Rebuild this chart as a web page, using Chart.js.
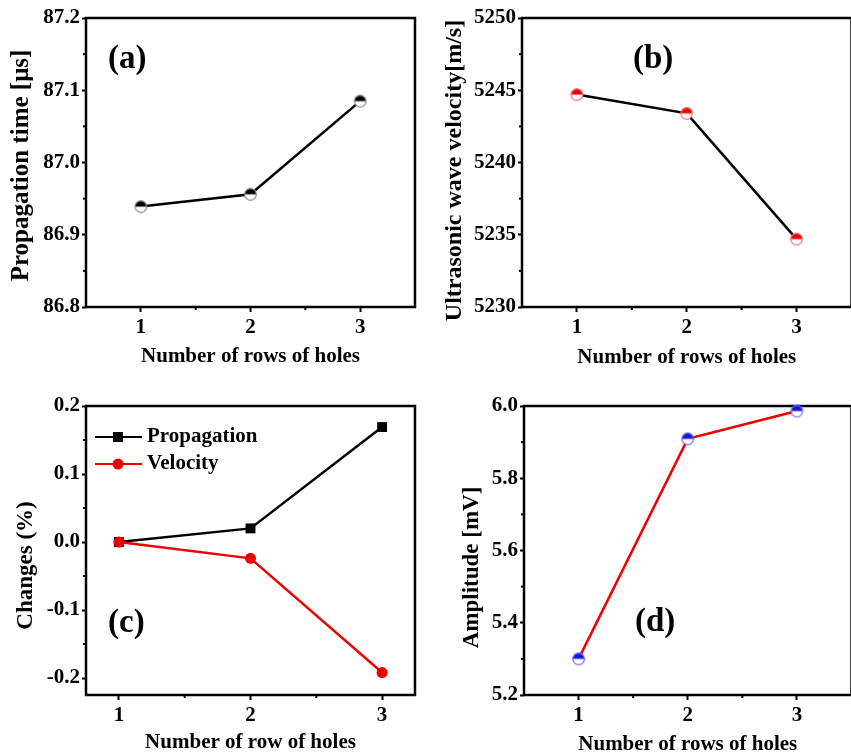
<!DOCTYPE html>
<html>
<head>
<meta charset="utf-8">
<script src="https://cdn.jsdelivr.net/npm/chart.js@4.4.1/dist/chart.umd.min.js"></script>
<style>
  html, body { margin: 0; padding: 0; background: #fff; overflow: hidden; width: 851px; height: 756px; }
  canvas { position: absolute; }
</style>
</head>
<body>
<canvas id="chartA" width="430" height="380" style="left:0;top:0"></canvas>
<canvas id="chartB" width="430" height="380" style="left:430px;top:0"></canvas>
<canvas id="chartC" width="430" height="376" style="left:0;top:380px"></canvas>
<canvas id="chartD" width="430" height="376" style="left:430px;top:380px"></canvas>
<script>
// data
const rows = [1, 2, 3];
const propagationTime = [86.939, 86.956, 87.085];   // µs
const waveVelocity = [5244.7, 5243.4, 5234.7];      // m/s
const changePropagation = [0, 0.020, 0.169];        // %
const changeVelocity = [0, -0.024, -0.192];         // %
const amplitude = [5.300, 5.909, 5.986];            // mV

const xTicks = [1, 2, 3];
const yTicksA = [86.8, 86.9, 87.0, 87.1, 87.2];
const yTicksB = [5230, 5235, 5240, 5245, 5250];
const yTicksC = [-0.2, -0.1, 0.0, 0.1, 0.2];
const yTicksD = [5.2, 5.4, 5.6, 5.8, 6.0];

const FONT = "'Liberation Serif', 'Times New Roman', serif";
const RED = "#ee0000";
const BLUE = "#1414e0";

function pts(xs, ys) {
  return xs.map((x, i) => ({ x: x, y: ys[i] }));
}

// half filled circle like the Origin symbol
function halfMarker(fill, edge) {
  let c = document.createElement("canvas");
  c.width = 15; c.height = 15;
  let g = c.getContext("2d");
  g.beginPath(); g.arc(7.5, 7.5, 5.8, 0, 2 * Math.PI); g.fillStyle = "#fff"; g.fill();
  g.beginPath(); g.arc(7.5, 7.5, 5.8, Math.PI, 2 * Math.PI); g.closePath(); g.fillStyle = fill; g.fill();
  g.beginPath(); g.arc(7.5, 7.5, 5.8, 0, 2 * Math.PI); g.lineWidth = 1.2; g.strokeStyle = edge; g.stroke();
  return c;
}

function midpoints(arr) {
  let out = [];
  for (let i = 0; i < arr.length - 1; i++) out.push((arr[i] + arr[i + 1]) / 2);
  return out;
}

// box frame, minor ticks, y title, panel letter, legend
const framePlugin = {
  id: "frame",
  beforeDatasetsDraw(chart, args, opts) {
    let ctx = chart.ctx;
    let a = chart.chartArea;
    let xs = chart.scales.x, ys = chart.scales.y;
    ctx.save();
    ctx.strokeStyle = "#000";
    ctx.lineWidth = 2;
    midpoints(opts.xMajor).forEach(v => {
      let px = xs.getPixelForValue(v);
      ctx.beginPath(); ctx.moveTo(px, a.bottom); ctx.lineTo(px, a.bottom + 3); ctx.stroke();
    });
    midpoints(opts.yMajor).forEach(v => {
      let py = ys.getPixelForValue(v);
      ctx.beginPath(); ctx.moveTo(a.left, py); ctx.lineTo(a.left - 3, py); ctx.stroke();
    });
    ctx.lineWidth = 2.5;
    ctx.strokeRect(a.left, a.top, a.right - a.left, a.bottom - a.top);

    // y axis title
    ctx.translate(opts.yTitleX, (a.top + a.bottom) / 2 + opts.yTitleShift);
    ctx.rotate(-Math.PI / 2);
    ctx.fillStyle = "#000";
    ctx.font = "bold " + opts.yTitleSize + "px " + FONT;
    ctx.textAlign = "center";
    ctx.textBaseline = "middle";
    ctx.fillText(opts.yTitle, 0, 0);
    ctx.restore();
  },
  afterDatasetsDraw(chart, args, opts) {
    let ctx = chart.ctx;
    let a = chart.chartArea;
    ctx.save();
    ctx.fillStyle = "#000";
    ctx.font = "bold 33px " + FONT;
    ctx.textAlign = "left";
    ctx.textBaseline = "middle";
    ctx.fillText(opts.label, a.left + opts.labelDx, a.top + opts.labelDy);
    if (opts.legend) {
      ctx.font = "bold 21px " + FONT;
      chart.data.datasets.forEach((ds, i) => {
        let y = a.top + 31 + i * 27;
        let x0 = a.left + 9;
        ctx.strokeStyle = ds.borderColor;
        ctx.lineWidth = 2;
        ctx.beginPath(); ctx.moveTo(x0, y); ctx.lineTo(x0 + 47, y); ctx.stroke();
        ctx.fillStyle = ds.borderColor;
        if (ds.pointStyle === "rect") {
          ctx.fillRect(x0 + 18, y - 5, 10, 10);
        } else {
          ctx.beginPath(); ctx.arc(x0 + 23, y, 5.5, 0, 2 * Math.PI); ctx.fill();
        }
        ctx.fillStyle = "#000";
        ctx.fillText(ds.label, x0 + 52, y);
      });
    }
    ctx.restore();
  }
};

function makePanel(id, cfg) {
  let ctx = document.getElementById(id);
  return new Chart(ctx, {
    type: "line",
    data: { datasets: cfg.datasets },
    plugins: [framePlugin],
    options: {
      responsive: false,
      animation: false,
      layout: { padding: { top: cfg.padTop, right: cfg.padRight, left: 0, bottom: 0 } },
      plugins: {
        legend: { display: false },
        tooltip: { enabled: false },
        frame: {
          xMajor: xTicks, yMajor: cfg.yTicks,
          yTitle: cfg.yTitle, yTitleSize: cfg.yTitleSize, yTitleX: cfg.yTitleX, yTitleShift: cfg.yTitleShift,
          label: cfg.label, labelDx: cfg.labelDx, labelDy: cfg.labelDy,
          legend: cfg.legend || false
        }
      },
      scales: {
        x: {
          type: "linear",
          min: cfg.xMin, max: cfg.xMax,
          afterBuildTicks: s => { s.ticks = xTicks.map(v => ({ value: v })); },
          afterFit: s => { s.height = cfg.xHeight; },
          border: { display: false },
          grid: { drawOnChartArea: false, drawTicks: true, tickLength: 5, tickWidth: 2, tickColor: "#000" },
          ticks: { color: "#000", padding: 3, font: { family: FONT, size: 21, weight: "bold" }, callback: v => String(v) },
          title: {
            display: true, text: cfg.xTitle, color: "#000",
            font: { family: FONT, size: 21, weight: "bold", lineHeight: 1 },
            padding: { top: 0, bottom: cfg.xTitlePad }
          }
        },
        y: {
          min: cfg.yTicks[0] - (cfg.yExtra || 0), max: cfg.yTicks[cfg.yTicks.length - 1],
          afterBuildTicks: s => { s.ticks = cfg.yTicks.map(v => ({ value: v })); },
          afterFit: s => { s.width = cfg.yWidth; },
          border: { display: false },
          grid: { drawOnChartArea: false, drawTicks: true, tickLength: 4, tickWidth: 2, tickColor: "#000" },
          ticks: { color: "#000", padding: 2, font: { family: FONT, size: 21, weight: "bold" }, callback: cfg.yFmt }
        }
      }
    }
  });
}

function halfDataset(values, line, fill, edge) {
  return {
    data: pts(rows, values),
    borderColor: line, borderWidth: 2.5, tension: 0, clip: false,
    pointStyle: halfMarker(fill, edge), pointRadius: 6
  };
}

makePanel("chartA", {
  datasets: [halfDataset(propagationTime, "#000", "#000", "#8a8a8a")],
  yTicks: yTicksA, yFmt: v => v.toFixed(1),
  xMin: 0.5, xMax: 3.5,
  padTop: 18, padRight: 15, yWidth: 86, xHeight: 73,
  xTitle: "Number of rows of holes", xTitlePad: 13,
  yTitle: "Propagation time [\u03bcs]", yTitleSize: 25, yTitleX: 22, yTitleShift: 3,
  label: "(a)", labelDx: 22, labelDy: 41
});

makePanel("chartB", {
  datasets: [halfDataset(waveVelocity, "#000", RED, "#f07070")],
  yTicks: yTicksB, yFmt: v => v.toFixed(0),
  xMin: 0.5, xMax: 3.5,
  padTop: 18, padRight: 7, yWidth: 92, xHeight: 73,
  xTitle: "Number of rows of holes", xTitlePad: 12,
  yTitle: "Ultrasonic wave velocity[m/s]", yTitleSize: 24, yTitleX: 25, yTitleShift: 8,
  label: "(b)", labelDx: 111, labelDy: 41
});

makePanel("chartC", {
  datasets: [
    {
      label: "Propagation", data: pts(rows, changePropagation), order: 1,
      borderColor: "#000", backgroundColor: "#000", borderWidth: 2.5, tension: 0, clip: false,
      pointStyle: "rect", pointRadius: 7, pointBorderWidth: 0
    },
    {
      label: "Velocity", data: pts(rows, changeVelocity), order: 0,
      borderColor: RED, backgroundColor: RED, borderWidth: 2.5, tension: 0, clip: false,
      pointStyle: "circle", pointRadius: 5.5, pointBorderWidth: 0
    }
  ],
  yTicks: yTicksC, yExtra: 0.025, yFmt: v => v.toFixed(1),
  xMin: 0.75, xMax: 3.25,
  padTop: 26, padRight: 15, yWidth: 86, xHeight: 61,
  xTitle: "Number of row of holes", xTitlePad: 2.5,
  yTitle: "Changes (%)", yTitleSize: 23, yTitleX: 26, yTitleShift: 15,
  label: "(c)", labelDx: 22, labelDy: 217, legend: true
});

makePanel("chartD", {
  datasets: [halfDataset(amplitude, RED, BLUE, "#6a6af0")],
  yTicks: yTicksD, yFmt: v => v.toFixed(1),
  xMin: 0.5, xMax: 3.5,
  padTop: 26, padRight: 7, yWidth: 94, xHeight: 61,
  xTitle: "Number of rows of holes", xTitlePad: 0.5,
  yTitle: "Amplitude [mV]", yTitleSize: 23, yTitleX: 42, yTitleShift: 17,
  label: "(d)", labelDx: 111, labelDy: 216
});
</script>
</body>
</html>
